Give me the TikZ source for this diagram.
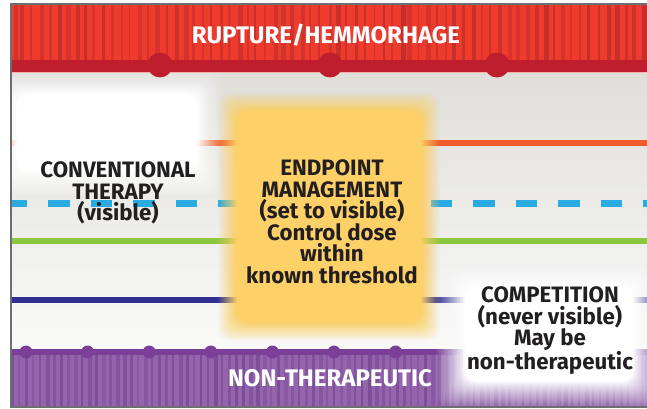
\documentclass[tikz,border=0pt]{standalone}
\usepackage{fontspec}
\setmainfont{Fira Sans}
\definecolor{redbright}{HTML}{EE3B2D}
\definecolor{redstripe}{HTML}{C42F2A}
\definecolor{redline}{HTML}{BE1E2D}
\definecolor{orangeline}{HTML}{F15A29}
\definecolor{blueline}{HTML}{29ABE2}
\definecolor{greenline}{HTML}{8DC63F}
\definecolor{navyline}{HTML}{2E3192}
\definecolor{purplebase}{HTML}{9464AD}
\definecolor{purplestripe}{HTML}{7A4D97}
\definecolor{purpleline}{HTML}{7B3F98}
\definecolor{glowyellow}{HTML}{FDD068}
\definecolor{txt}{HTML}{231F20}
\definecolor{bgtop}{HTML}{DFDED9}
\definecolor{bgmid}{HTML}{ECECEA}
\definecolor{bgbot}{HTML}{FAFAF9}
\definecolor{framegray}{HTML}{6D6E71}
% soft-edged box: linear ramp of opacity over #6 from the outer edge
\newcommand\mkglow[6]{%
  \foreach \i in {0,...,19}{%
    \pgfmathsetmacro\gop{1/(20-\i)}%
    \fill[#1, opacity=\gop, rounded corners=12pt]
      ({#2+\i*#6/20},{#3+\i*#6/20}) rectangle ({#4-\i*#6/20},{#5-\i*#6/20});
  }}
\tikzset{
  lbl/.style={font=\bfseries\fontsize{22.3}{21.6}\selectfont, text=txt, align=center, inner sep=0pt, anchor=north},
  bandlbl/.style={font=\bfseries\fontsize{24}{21.6}\selectfont, text=white, inner sep=0pt, anchor=north},
  hline/.style={line width=6pt},
}
\begin{document}
\begin{tikzpicture}[x=1pt,y=-1pt]
\useasboundingbox (0,0) rectangle (647,409);
\fill[white] (0,0) rectangle (647,409);
\begin{scope}
\clip (11,4) rectangle (647,407);
% background
\shade[top color=bgtop, middle color=bgmid, bottom color=bgbot] (11,72) rectangle (647,352);
% lines
\draw[hline, orangeline] (11,143) -- (647,143);
\draw[line width=7pt, blueline, dash pattern=on 21.5pt off 21pt] (5.5,203.5) -- (660,203.5);
\draw[hline, greenline] (11,241) -- (647,241);
\draw[hline, navyline] (11,299.5) -- (647,299.5);
% left white glow
\mkglow{white}{-8}{70}{222}{196}{26}
% red band
\fill[redbright] (11,4) rectangle (647,60);
\pgfmathsetseed{11}
\foreach \x in {11,20,...,647}{
  \pgfmathsetmacro\ww{1.5+3.5*rnd}
  \pgfmathsetmacro\dx{3*rnd}
  \pgfmathsetmacro\op{0.5+0.5*rnd}
  \fill[redstripe, opacity=\op] (\x+\dx,4) rectangle ++(\ww,56);
}
\fill[redline] (11,60) rectangle (647,72);
\draw[line width=1pt, redbright!40] (11,72.5) -- (647,72.5);
\foreach \x in {160,330,497} \fill[redline] (\x,65) circle (12.5);
% purple band
\fill[purplebase] (11,352) rectangle (647,407);
\pgfmathsetseed{5}
\foreach \x in {11,18,...,647}{
  \pgfmathsetmacro\ww{1.5+3*rnd}
  \pgfmathsetmacro\op{0.4+0.6*rnd}
  \fill[purplestripe, opacity=\op] (\x,354) rectangle ++(\ww,53);
}
\fill[purpleline] (11,349) rectangle (647,355);
\foreach \k in {0,...,6} \fill[purpleline] ({26+61.6*\k},352) circle (6.5);
% yellow glow
\mkglow{glowyellow}{218}{92}{440}{341}{20}
% competition glow
\mkglow{white}{436}{258}{662}{410}{30}
\end{scope}
% frame
\draw[framegray, line width=1.2pt] (647,4) -- (11,4) -- (11,407) -- (647,407);
% labels
\node[bandlbl] (rupture) at (326,24) {RUPTURE/HEMMORHAGE};
\node[bandlbl] (nontherapeutic) at (330,369.5) {NON-THERAPEUTIC};
\node[lbl] (conventional) at (118,161.5) {CONVENTIONAL\\THERAPY\\(visible)};
\node[lbl] (endpoint) at (332,159.5) {ENDPOINT\\MANAGEMENT\\(set to visible)\\Control dose\\within\\known threshold};
\node[lbl] (competition) at (550,286.5) {COMPETITION\\(never visible)\\May be\\non-therapeutic};
\end{tikzpicture}
\end{document}
